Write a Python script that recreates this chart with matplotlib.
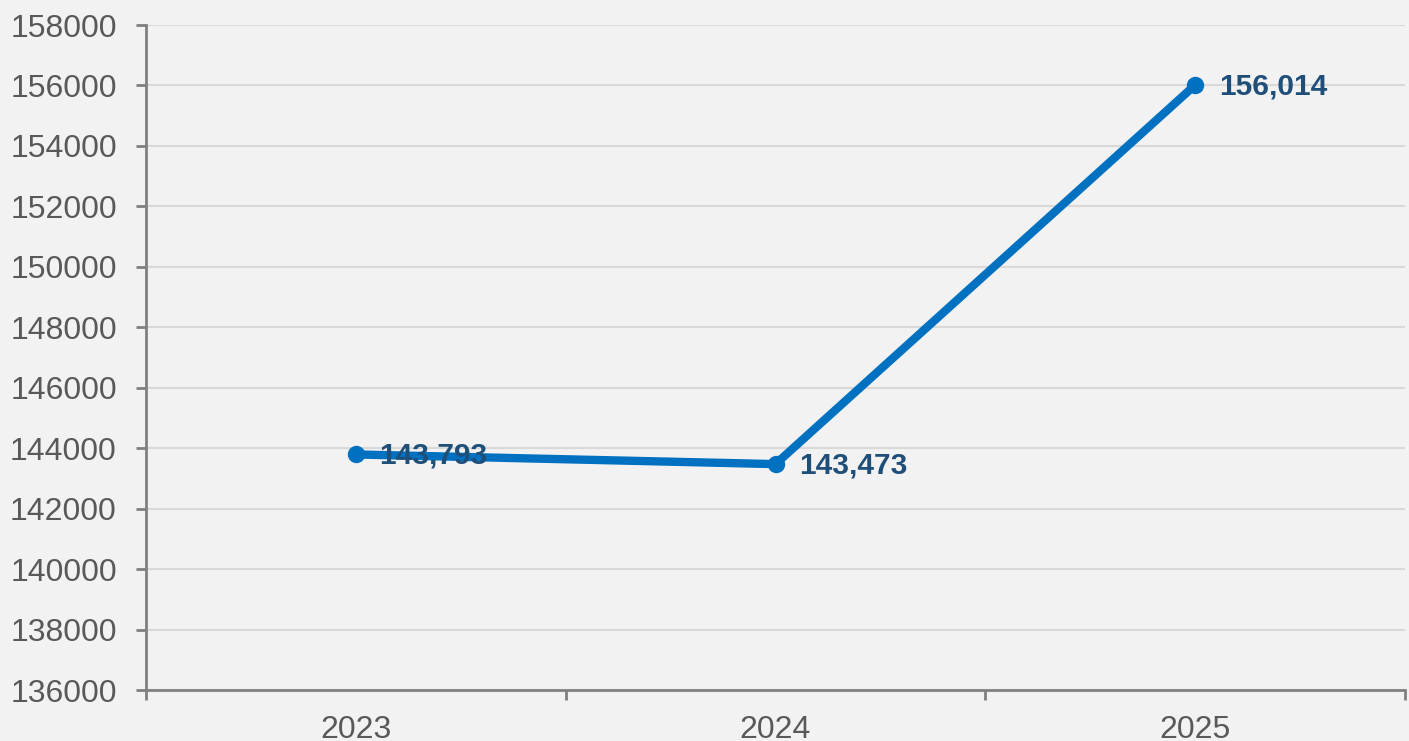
import matplotlib.pyplot as plt
from matplotlib.ticker import MultipleLocator, FixedLocator

years = ["2023", "2024", "2025"]
values = [143793, 143473, 156014]
labels = ["143,793", "143,473", "156,014"]

plt.rcParams['font.family'] = ['Liberation Sans', 'DejaVu Sans']

fig = plt.figure(figsize=(14.09, 7.41), dpi=100, facecolor="#F2F2F2")
ax = fig.add_axes([146/1409, 1 - 690/741, (1405 - 146)/1409, (690 - 25)/741])
ax.set_facecolor("#F2F2F2")

x = list(range(len(years)))
ax.plot(x, values, color="#0070C0", lw=6, marker="o", ms=11.5,
        solid_capstyle="round", zorder=3)
for xi, v, lab in zip(x, values, labels):
    ax.annotate(lab, (xi, v), xytext=(17, -1), textcoords="offset points",
                ha="left", va="center", fontsize=21.5, fontweight="bold",
                color="#1F4E79", zorder=4)

ax.set_xlim(-0.5, 2.5)
ax.set_ylim(136000, 158000)
ax.yaxis.set_major_locator(MultipleLocator(2000))
ax.set_xticks(x)
ax.set_xticklabels(years)
ax.xaxis.set_minor_locator(FixedLocator([-0.5, 0.5, 1.5, 2.5]))
ax.tick_params(axis="x", which="major", length=0, pad=18, labelsize=23, labelcolor="#595959")
ax.tick_params(axis="x", which="minor", length=7, width=2, color="#808080")
ax.tick_params(axis="y", length=7, width=2, color="#808080", pad=14,
               labelsize=23, labelcolor="#595959")

ax.grid(axis="y", color="#D9D9D9", lw=1.5, zorder=0)
ax.set_axisbelow(True)
for s in ["top", "right"]:
    ax.spines[s].set_visible(False)
for s in ["left", "bottom"]:
    ax.spines[s].set_color("#808080")
    ax.spines[s].set_linewidth(2)

fig.savefig("out.png", dpi=100, facecolor=fig.get_facecolor())
